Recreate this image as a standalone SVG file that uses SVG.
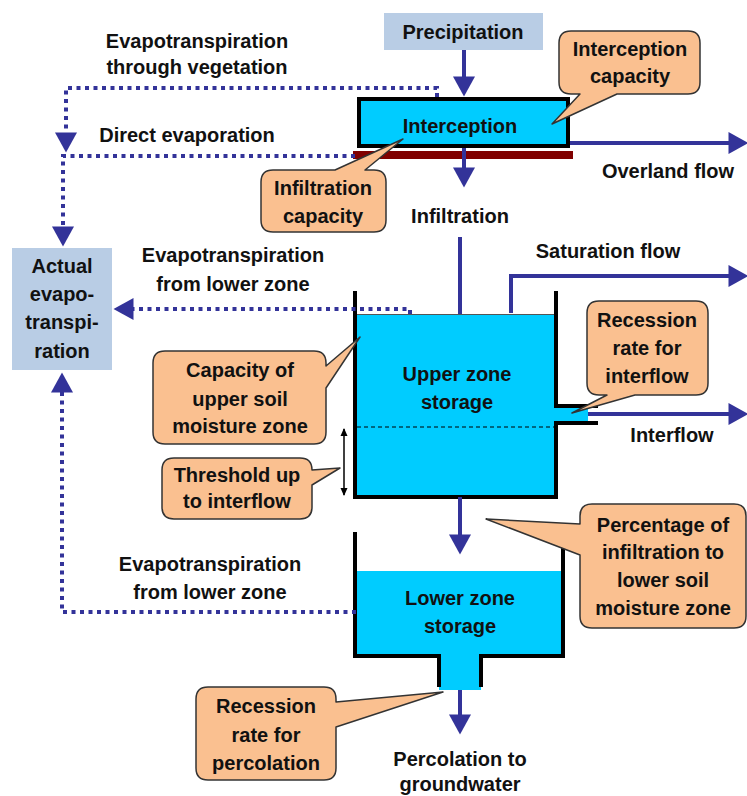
<svg xmlns="http://www.w3.org/2000/svg" width="747" height="796" viewBox="0 0 747 796">
<style>
text{font-family:"Liberation Sans",Arial,sans-serif;font-weight:bold;font-size:20px;fill:#111;text-anchor:middle}
.box{fill:#B9CDE5}
.water{fill:#00CCFF}
.wall{fill:none;stroke:#000;stroke-width:4;stroke-linejoin:miter}
.flow{fill:none;stroke:#333399;stroke-width:4}
.dot{fill:none;stroke:#333399;stroke-width:4;stroke-dasharray:4 4.5}
.call{fill:#FAC090;stroke:#333;stroke-width:1.5;stroke-linejoin:round}
</style>
<defs>
<marker id="arr" markerUnits="userSpaceOnUse" markerWidth="22" markerHeight="22" viewBox="0 0 20 22" refX="0.5" refY="11" orient="auto">
<path d="M0,0 L20,11 L0,22 Z" fill="#333399"/>
</marker>
<marker id="sarr" markerUnits="userSpaceOnUse" markerWidth="8" markerHeight="8" viewBox="0 0 8 8" refX="7" refY="4" orient="auto-start-reverse">
<path d="M0,0.5 L8,4 L0,7.5 Z" fill="#000"/>
</marker>
</defs>

<g id="precipitation">
<rect class="box" x="384" y="13" width="159" height="37"/>
<text x="463" y="38.5">Precipitation</text>
</g>

<g id="interception">
<rect class="water" x="359" y="99" width="209" height="47" stroke="#000" stroke-width="4"/>
<rect x="353" y="151" width="220" height="8" fill="#800000"/>
<text x="460" y="133">Interception</text>
</g>

<g id="actual-evapotranspiration">
<rect class="box" x="12" y="248" width="100" height="122"/>
<text x="62" y="273">Actual</text>
<text x="62" y="301">evapo-</text>
<text x="62" y="329">transpi-</text>
<text x="62" y="358">ration</text>
</g>

<g id="upper-zone">
<rect class="water" x="355" y="314" width="201" height="183"/>
<rect class="water" x="556" y="406" width="32" height="17"/>
<line x1="357" y1="314.5" x2="554" y2="314.5" stroke="#555" stroke-width="1"/>
<path class="wall" d="M355,291 V497 H556 V423 H598 M556,291 V406 H598"/>
<line x1="357" y1="427" x2="554" y2="427" stroke="#000" stroke-width="1.2" stroke-dasharray="4 3"/>
<line x1="344" y1="429" x2="344" y2="495" stroke="#000" stroke-width="1.5" marker-start="url(#sarr)" marker-end="url(#sarr)"/>
<text x="457" y="381">Upper zone</text>
<text x="457" y="409">storage</text>
</g>

<g id="lower-zone">
<rect class="water" x="355" y="571" width="208" height="85"/>
<rect class="water" x="439" y="655" width="42" height="35"/>
<path class="wall" d="M355,532 V656 H439 V687 M481,687 V656 H563 V532"/>
<text x="460" y="605">Lower zone</text>
<text x="460" y="633">storage</text>
</g>

<g id="connectors">
<path class="flow" d="M464,50 V77" marker-end="url(#arr)"/>
<path class="flow" d="M464,148 V168" marker-end="url(#arr)"/>
<path class="flow" d="M570,143 H729" marker-end="url(#arr)"/>
<path class="flow" d="M460,237 V314"/>
<path class="flow" d="M460,497 V535" marker-end="url(#arr)"/>
<path class="flow" d="M511,313 V276 H729" marker-end="url(#arr)"/>
<path class="flow" d="M588,414 H729" marker-end="url(#arr)"/>
<path class="flow" d="M460,690 V715" marker-end="url(#arr)"/>
<path class="dot" d="M437,97 V88 H66 V133" marker-end="url(#arr)"/>
<path class="dot" d="M355,156 H63 V227" marker-end="url(#arr)"/>
<path class="dot" d="M410,314 V309 H133" marker-end="url(#arr)"/>
<path class="dot" d="M356,612 H62 V392" marker-end="url(#arr)"/>
</g>

<g id="labels">
<text x="197" y="48">Evapotranspiration</text>
<text x="197" y="74">through vegetation</text>
<text x="187" y="142">Direct evaporation</text>
<text x="668" y="178">Overland flow</text>
<text x="460" y="223">Infiltration</text>
<text x="608" y="258">Saturation flow</text>
<text x="233" y="262">Evapotranspiration</text>
<text x="233" y="291">from lower zone</text>
<text x="672" y="442">Interflow</text>
<text x="210" y="571">Evapotranspiration</text>
<text x="210" y="599">from lower zone</text>
<text x="460" y="766">Percolation to</text>
<text x="460" y="791">groundwater</text>
</g>

<g id="callout-interception-capacity">
<path class="call" d="M571,31 H688 Q700,31 700,43 V82 Q700,94 688,94 H617 L552,124 L580,94 H571 Q559,94 559,82 V43 Q559,31 571,31 Z"/>
<text x="630" y="56">Interception</text>
<text x="630" y="83">capacity</text>
</g>

<g id="callout-infiltration-capacity">
<path class="call" d="M273,170 H335 L403,139 L365,170 H374 Q386,170 386,182 V220 Q386,232 374,232 H273 Q261,232 261,220 V182 Q261,170 273,170 Z"/>
<text x="323" y="195">Infiltration</text>
<text x="323" y="223">capacity</text>
</g>

<g id="callout-recession-interflow">
<path class="call" d="M599,301 H696 Q708,301 708,313 V383 Q708,395 696,395 H635 L572,413 L607,395 H599 Q587,395 587,383 V313 Q587,301 599,301 Z"/>
<text x="647" y="327">Recession</text>
<text x="647" y="355">rate for</text>
<text x="647" y="383">interflow</text>
</g>

<g id="callout-capacity-upper">
<path class="call" d="M165,351 H314 Q326,351 326,363 V366 L360,337 L326,388 V432 Q326,444 314,444 H165 Q153,444 153,432 V363 Q153,351 165,351 Z"/>
<text x="240" y="377">Capacity of</text>
<text x="240" y="406">upper soil</text>
<text x="240" y="433">moisture zone</text>
</g>

<g id="callout-threshold">
<path class="call" d="M174,458 H300 Q312,458 312,470 L340,468 L312,485 V507 Q312,519 300,519 H174 Q162,519 162,507 V470 Q162,458 174,458 Z"/>
<text x="237" y="482">Threshold up</text>
<text x="237" y="508">to interflow</text>
</g>

<g id="callout-percentage">
<path class="call" d="M592,504 H734 Q746,504 746,516 V616 Q746,628 734,628 H592 Q580,628 580,616 V555 L486,519 L580,524 V516 Q580,504 592,504 Z"/>
<text x="663" y="532">Percentage of</text>
<text x="663" y="559">infiltration to</text>
<text x="663" y="587">lower soil</text>
<text x="663" y="615">moisture zone</text>
</g>

<g id="callout-recession-percolation">
<path class="call" d="M208,687 H324 Q336,687 336,699 V702 L443,692 L336,727 V768 Q336,780 324,780 H208 Q196,780 196,768 V699 Q196,687 208,687 Z"/>
<text x="266" y="713">Recession</text>
<text x="266" y="742">rate for</text>
<text x="266" y="770">percolation</text>
</g>
</svg>
